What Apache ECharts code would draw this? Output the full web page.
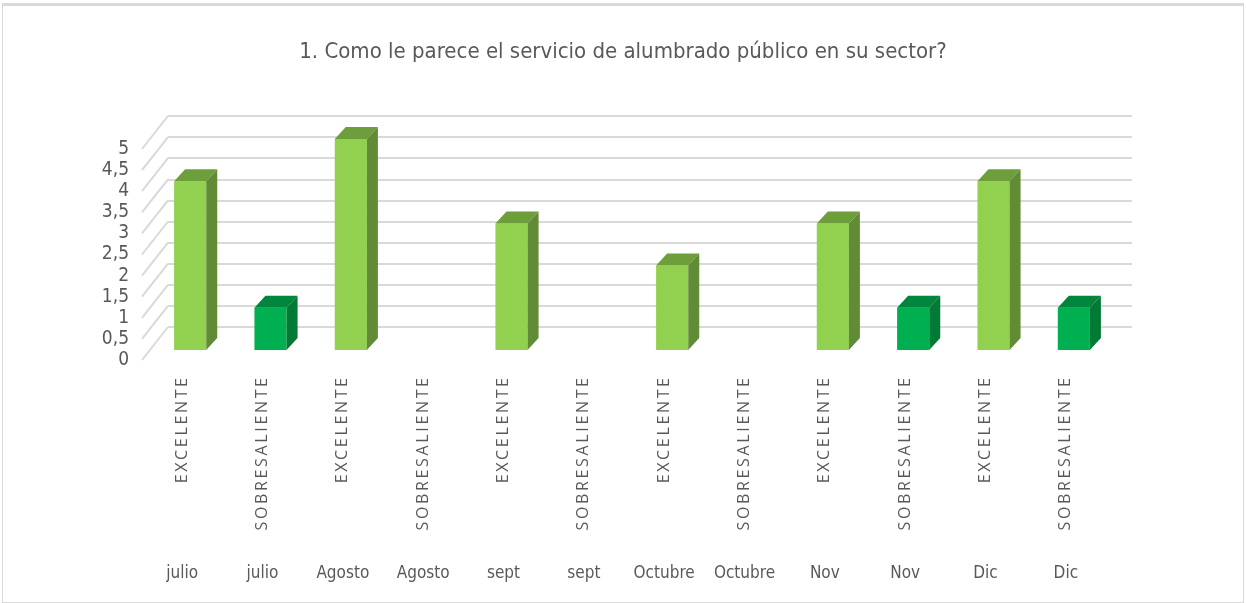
<!DOCTYPE html>
<html>
<head>
<meta charset="utf-8">
<script src="https://cdn.jsdelivr.net/npm/echarts@6/dist/echarts.min.js"></script>
<style>
  html, body { margin: 0; padding: 0; background: #fff; }
  #chart {
    position: absolute; left: 2px; top: 3px;
    width: 1240px; height: 596px;
    border: 1px solid #d9d9d9; border-top-width: 3px;
  }
</style>
</head>
<body>
<div id="chart"></div>
<script>
// data
const meses = ['julio', 'julio', 'Agosto', 'Agosto', 'sept', 'sept', 'Octubre', 'Octubre', 'Nov', 'Nov', 'Dic', 'Dic']
const calificaciones = ['EXCELENTE', 'SOBRESALIENTE', 'EXCELENTE', 'SOBRESALIENTE', 'EXCELENTE', 'SOBRESALIENTE',
  'EXCELENTE', 'SOBRESALIENTE', 'EXCELENTE', 'SOBRESALIENTE', 'EXCELENTE', 'SOBRESALIENTE']
const valores = [4, 1, 5, 0, 3, 0, 2, 0, 3, 1, 4, 1]
const ticksY = [0, 0.5, 1, 1.5, 2, 2.5, 3, 3.5, 4, 4.5, 5]

const colores = {
  EXCELENTE: { front: '#92d050', top: '#6e9e3c', side: '#618b34' },
  SOBRESALIENTE: { front: '#00b050', top: '#00853c', side: '#007a35' }
}

const textColor = '#595959'
const gridColor = '#d9d9d9'
const narrow = "'DejaVu Sans Condensed', Roboto, sans-serif"
// perspective: wall depth and bar depth (pixels)
const wall = [26, -33]
const barFront = [8, -10]
const barDepth = [11, -12]

const chart = echarts.init(document.getElementById('chart'))

const option = {
  animation: false,
  title: {
    text: '1. Como le parece el servicio de alumbrado público en su sector?',
    left: 'center',
    top: 30,
    textStyle: { fontFamily: narrow, fontSize: 22, fontWeight: 'normal', color: textColor }
  },
  grid: [
    { left: 139, right: 137, top: 143, bottom: 242 },
    { left: 165, right: 111, top: 110, bottom: 275 }
  ],
  xAxis: [
    {
      type: 'category', gridIndex: 0, data: calificaciones,
      axisLine: { show: false }, axisTick: { show: false },
      axisLabel: {
        interval: 0, rotate: 90, margin: 18, color: textColor,
        fontFamily: 'Open Sans', fontSize: 16,
        formatter: v => v.split('').join('\u2009')
      }
    },
    {
      type: 'category', gridIndex: 0, data: meses, position: 'bottom',
      axisLine: { show: false }, axisTick: { show: false },
      axisLabel: { interval: 0, margin: 205, color: textColor, fontFamily: narrow, fontSize: 17 }
    },
    { type: 'category', gridIndex: 1, data: meses, show: false }
  ],
  yAxis: [
    {
      type: 'value', gridIndex: 0, min: 0, max: 5, interval: 0.5,
      axisLine: { show: false }, axisTick: { show: false }, splitLine: { show: false },
      axisLabel: {
        margin: 13, color: textColor, fontFamily: narrow, fontSize: 19,
        formatter: v => String(v).replace('.', ',')
      }
    },
    {
      type: 'value', gridIndex: 1, min: 0, max: 5, interval: 0.5,
      axisLine: { show: false }, axisTick: { show: false }, axisLabel: { show: false },
      splitLine: { lineStyle: { color: gridColor, width: 2 } }
    }
  ],
  series: [
    {
      // slanted lines joining the front labels to the back wall
      type: 'custom', xAxisIndex: 0, yAxisIndex: 0,
      data: ticksY.map(t => [0, t]),
      renderItem: (params, api) => {
        const p = api.coord([0, api.value(1)])
        const x0 = p[0] - api.size([1, 0])[0] / 2
        return {
          type: 'line',
          shape: { x1: x0, y1: p[1], x2: x0 + wall[0], y2: p[1] + wall[1] },
          style: { stroke: gridColor, lineWidth: 2 }
        }
      },
      z: 1
    },
    {
      type: 'custom', xAxisIndex: 0, yAxisIndex: 0,
      data: valores.map((v, i) => [i, v]),
      renderItem: (params, api) => {
        const i = api.value(0)
        const v = api.value(1)
        if (!v) return
        const c = colores[calificaciones[i]]
        const top = api.coord([i, v])
        const base = api.coord([i, 0])
        const w = api.size([1, 0])[0] * 0.4
        const xl = top[0] + barFront[0] - w / 2
        const xr = xl + w
        const yt = top[1] + barFront[1]
        const yb = base[1] + barFront[1]
        const dx = barDepth[0], dy = barDepth[1]
        return {
          type: 'group',
          children: [
            { type: 'rect', shape: { x: xl, y: yt, width: w, height: yb - yt }, style: { fill: c.front } },
            { type: 'polygon', shape: { points: [[xl, yt], [xr, yt], [xr + dx, yt + dy], [xl + dx, yt + dy]] }, style: { fill: c.top } },
            { type: 'polygon', shape: { points: [[xr, yt], [xr, yb], [xr + dx, yb + dy], [xr + dx, yt + dy]] }, style: { fill: c.side } }
          ]
        }
      },
      z: 3
    }
  ]
}

chart.setOption(option)
</script>
</body>
</html>
